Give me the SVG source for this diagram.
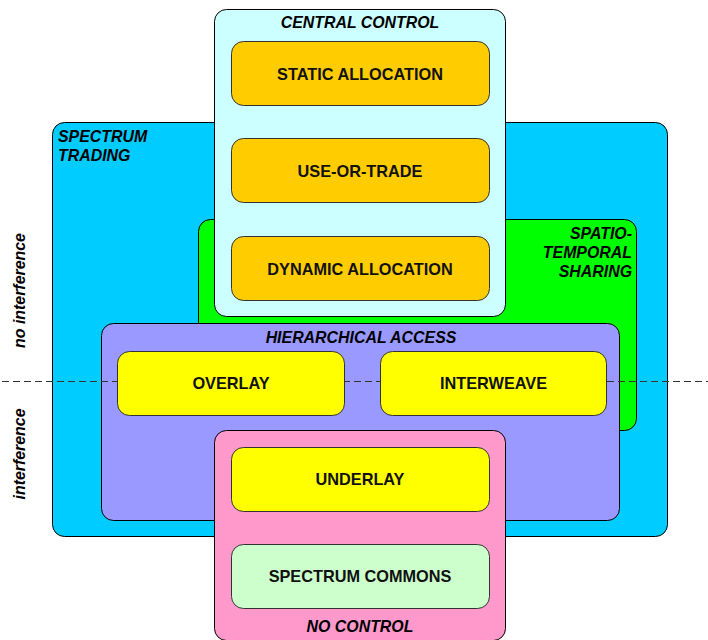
<svg xmlns="http://www.w3.org/2000/svg" width="708" height="640" viewBox="0 0 708 640">
  <style>
    .box { stroke: #000; stroke-width: 1; }
    .node { stroke: #333; stroke-width: 1; }
    .lbl { font-family: "Liberation Sans", Arial, sans-serif; font-size: 16.3px; font-weight: bold; fill: #111; }
    .ttl { font-family: "Liberation Sans", Arial, sans-serif; font-size: 15.9px; font-weight: bold; font-style: italic; fill: #000; }
    .mid { text-anchor: middle; }
    .end { text-anchor: end; }
    .divider { stroke: #333; stroke-width: 1.2; stroke-dasharray: 7 4; fill: none; }
  </style>

  <!-- regime containers -->
  <g id="spectrum-trading">
    <rect class="box" x="52.5" y="122.5" width="615" height="414" rx="12" fill="#00ccff"/>
    <text class="ttl" x="58" y="141.5">SPECTRUM</text>
    <text class="ttl" x="58" y="160.5">TRADING</text>
  </g>
  <g id="spatio-temporal-sharing">
    <rect class="box" x="198.5" y="219.5" width="438" height="211" rx="12" fill="#00ff00"/>
    <text class="ttl end" x="632" y="238.5">SPATIO-</text>
    <text class="ttl end" x="632" y="257.5">TEMPORAL</text>
    <text class="ttl end" x="632" y="276.5">SHARING</text>
  </g>
  <g id="central-control">
    <rect class="box" x="214.5" y="9.5" width="291" height="307" rx="12" fill="#ccffff"/>
    <text class="ttl mid" x="360" y="27.5">CENTRAL CONTROL</text>
  </g>
  <g id="hierarchical-access">
    <rect class="box" x="101.5" y="323.5" width="518" height="197" rx="12" fill="#9999ff"/>
    <text class="ttl mid" x="361" y="342.5">HIERARCHICAL ACCESS</text>
  </g>

  <!-- interference boundary -->
  <g id="connectors">
    <line class="divider" x1="2" y1="381.5" x2="708" y2="381.5"/>
  </g>

  <g id="no-control">
    <rect class="box" x="214.5" y="430.5" width="291" height="210" rx="12" fill="#ff99cc"/>
    <text class="ttl mid" x="360" y="631.5">NO CONTROL</text>
  </g>

  <!-- access models -->
  <g id="static-allocation">
    <rect class="node" x="231.5" y="41.5" width="258" height="64" rx="12" fill="#ffcc00"/>
    <text class="lbl mid" x="360" y="79.5">STATIC ALLOCATION</text>
  </g>
  <g id="use-or-trade">
    <rect class="node" x="231.5" y="138.5" width="258" height="64" rx="12" fill="#ffcc00"/>
    <text class="lbl mid" x="360" y="176.5">USE-OR-TRADE</text>
  </g>
  <g id="dynamic-allocation">
    <rect class="node" x="231.5" y="236.5" width="258" height="64" rx="12" fill="#ffcc00"/>
    <text class="lbl mid" x="360" y="274.5">DYNAMIC ALLOCATION</text>
  </g>
  <g id="overlay">
    <rect class="node" x="117.5" y="351.5" width="227" height="64" rx="12" fill="#ffff00"/>
    <text class="lbl mid" x="231" y="389">OVERLAY</text>
  </g>
  <g id="interweave">
    <rect class="node" x="380.5" y="351.5" width="226" height="64" rx="12" fill="#ffff00"/>
    <text class="lbl mid" x="493.5" y="389">INTERWEAVE</text>
  </g>
  <g id="underlay">
    <rect class="node" x="231.5" y="447.5" width="258" height="64" rx="12" fill="#ffff00"/>
    <text class="lbl mid" x="360" y="485">UNDERLAY</text>
  </g>
  <g id="spectrum-commons">
    <rect class="node" x="231.5" y="544.5" width="258" height="64" rx="12" fill="#ccffcc"/>
    <text class="lbl mid" x="360" y="582">SPECTRUM COMMONS</text>
  </g>

  <!-- side labels -->
  <g id="side-labels">
    <text class="ttl mid" transform="translate(25,290.5) rotate(-90)">no interference</text>
    <text class="ttl mid" transform="translate(25,454) rotate(-90)">interference</text>
  </g>
</svg>
